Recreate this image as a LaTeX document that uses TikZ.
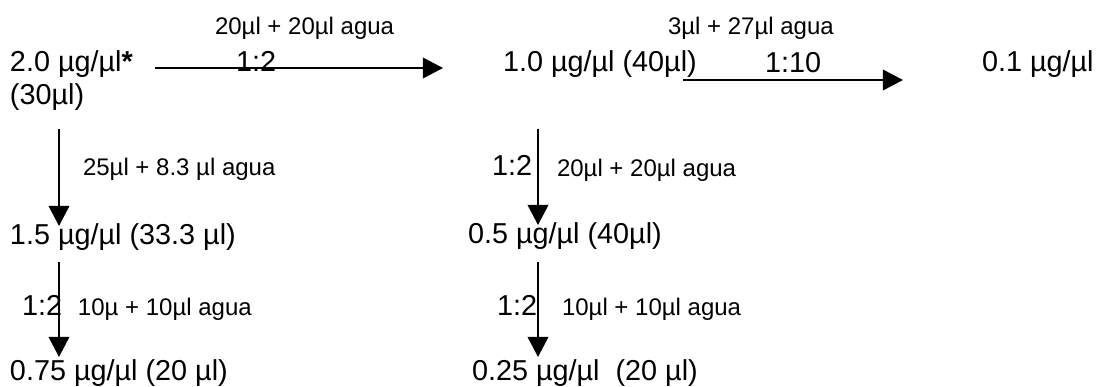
\documentclass[tikz,border=0pt]{standalone}
\usepackage{fontspec}
\setmainfont{Liberation Sans}
\usetikzlibrary{arrows.meta}
\begin{document}
\begin{tikzpicture}[x=0.41667pt,y=-0.41667pt,
  big/.style={anchor=base west,inner sep=0pt,outer sep=0pt,font=\fontsize{12}{14}\selectfont},
  small/.style={anchor=base west,inner sep=0pt,outer sep=0pt,font=\fontsize{10}{12}\selectfont},
  arr/.style={line width=0.75pt,-{Triangle[length=8.4pt,width=8.6pt]}}]
\useasboundingbox (0,0) rectangle (1098,387);
% row 1
\node[big] (a) at (10,71) {2.0 µg/µl\textbf{*}};
\node[big] (a2) at (10,104) {(30µl)};
\node[big] (b) at (503,71) {1.0 µg/µl (40µl)};
\node[big] (c) at (982,71) {0.1 µg/µl};
\node[small] (t1) at (215,35) {20µl + 20µl agua};
\node[big] (r1) at (236,71) {1:2};
\node[small] (t2) at (668,35) {3µl + 27µl agua};
\node[big] (r2) at (765,72) {1:10};
% left column
\node[small] (t3) at (83,175) {25µl + 8.3 µl agua};
\node[big] (d) at (10,244) {1.5 µg/µl (33.3 µl)};
\node[big] (r3) at (22,315) {1:2};
\node[small] (t4) at (78,315) {10µ + 10µl agua};
\node[big] (e) at (10,380) {0.75 µg/µl (20 µl)};
% right column
\node[big] (r4) at (492,175) {1:2};
\node[small] (t5) at (557,176) {20µl + 20µl agua};
\node[big] (f) at (468,243) {0.5 µg/µl (40µl)};
\node[big] (r5) at (497,315) {1:2};
\node[small] (t6) at (562,315) {10µl + 10µl agua};
\node[big] (g) at (472,380) {0.25 µg/µl\ \ (20 µl)};
% connector ends
\coordinate (h1s) at (155,68);  \coordinate (h1e) at (443,68);
\coordinate (h2s) at (683,80);  \coordinate (h2e) at (903,80);
\coordinate (vAs) at (59,129);  \coordinate (vAe) at (59,226);
\coordinate (vBs) at (59,262);  \coordinate (vBe) at (59,357);
\coordinate (vCs) at (538,129); \coordinate (vCe) at (538,225);
\coordinate (vDs) at (538,262); \coordinate (vDe) at (538,357);
\draw[arr] (h1s) -- (h1e);
\draw[arr] (h2s) -- (h2e);
\draw[arr] (vAs) -- (vAe);
\draw[arr] (vBs) -- (vBe);
\draw[arr] (vCs) -- (vCe);
\draw[arr] (vDs) -- (vDe);
\end{tikzpicture}
\end{document}
